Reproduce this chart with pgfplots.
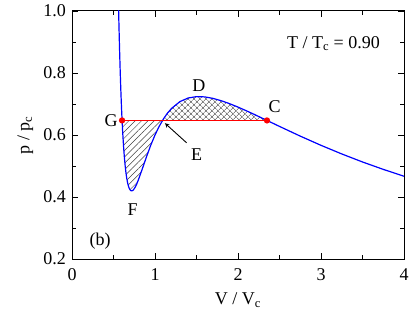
\documentclass[border=0pt]{standalone}
\usepackage{pgfplots}
\pgfplotsset{compat=1.18}
\usetikzlibrary{patterns.meta}
\usepackage{fontspec}
\setmainfont{Liberation Serif}

\begin{document}
\fontsize{18}{21}\selectfont
\begin{tikzpicture}
\begin{axis}[
  scale only axis, width=332pt, height=248pt,
  xmin=0, xmax=4, ymin=0.2, ymax=1.0,
  xtick={0,1,2,3,4}, ytick={0.2,0.4,0.6,0.8,1.0},
  minor xtick={0.5,1.5,2.5,3.5}, minor ytick={0.3,0.5,0.7,0.9},
  tick align=inside, major tick length=6pt, minor tick length=4pt,
  tick style={black, line width=0.9pt},
  axis line style={line width=1pt},
  yticklabel style={/pgf/number format/.cd, fixed, fixed zerofill, precision=1},
  xticklabel style={yshift=-3pt},
  /pgf/number format/assume math mode=true,
  xlabel={V / V\textsubscript{c}}, ylabel={p / p\textsubscript{c}},
  xlabel style={yshift=0pt}, ylabel style={yshift=-2pt},
  every tick label/.append style={font=\fontsize{18}{21}\selectfont},
  label style={font=\fontsize{18}{21}\selectfont},
  every node/.append style={font=\fontsize{18}{21}\selectfont},
]
% hatched areas (Maxwell construction)
\addplot[draw=none, pattern={Lines[angle=45,distance=4.5pt,line width=0.5pt]}, pattern color=black!75]
  coordinates {(0.603,0.647) (0.61,0.6123) (0.62,0.5677) (0.63,0.5313) (0.64,0.5019) (0.65,0.4783)
  (0.66,0.4598) (0.67,0.4457) (0.68,0.4352) (0.69,0.4278) (0.70,0.4231) (0.71,0.4205) (0.72,0.4199)
  (0.73,0.4208) (0.74,0.4231) (0.76,0.4311) (0.78,0.4421) (0.80,0.4554) (0.85,0.4930) (0.90,0.5316)
  (0.95,0.5678) (1.00,0.6) (1.05,0.6277) (1.09,0.647)} --cycle;
\addplot[draw=none, pattern={Lines[angle=45,distance=4pt,line width=0.5pt]}, pattern color=black!75]
  coordinates {(1.09,0.647) (1.1,0.6511) (1.15,0.6704) (1.2,0.6859) (1.3,0.7077) (1.4,0.7194) (1.5,0.7238)
  (1.6,0.7229) (1.7,0.7180) (1.8,0.7104) (1.9,0.7009) (2.0,0.69) (2.1,0.6782) (2.2,0.6659)
  (2.3,0.6532) (2.349,0.647)} --cycle;
\addplot[draw=none, pattern={Lines[angle=-45,distance=4pt,line width=0.5pt]}, pattern color=black!75]
  coordinates {(1.09,0.647) (1.1,0.6511) (1.15,0.6704) (1.2,0.6859) (1.3,0.7077) (1.4,0.7194) (1.5,0.7238)
  (1.6,0.7229) (1.7,0.7180) (1.8,0.7104) (1.9,0.7009) (2.0,0.69) (2.1,0.6782) (2.2,0.6659)
  (2.3,0.6532) (2.349,0.647)} --cycle;
% van der Waals isotherm T/Tc = 0.90
\addplot[blue, line width=1.2pt, no markers] coordinates {
  (0.55,1.160) (0.555,1.0876) (0.56,1.022) (0.565,0.962) (0.57,0.9072) (0.575,0.8573) (0.58,0.8117)
  (0.585,0.7703) (0.59,0.7324) (0.595,0.6980) (0.60,0.6667) (0.61,0.6123) (0.62,0.5677) (0.63,0.5313)
  (0.64,0.5019) (0.65,0.4783) (0.66,0.4598) (0.67,0.4457) (0.68,0.4352) (0.69,0.4278) (0.70,0.4231)
  (0.71,0.4205) (0.72,0.4199) (0.73,0.4208) (0.74,0.4231) (0.76,0.4311) (0.78,0.4421) (0.80,0.4554)
  (0.85,0.4930) (0.90,0.5316) (0.95,0.5678) (1.00,0.6) (1.05,0.6277) (1.1,0.6511) (1.15,0.6704)
  (1.2,0.6859) (1.3,0.7077) (1.4,0.7194) (1.5,0.7238) (1.6,0.7229) (1.7,0.7180) (1.8,0.7104)
  (1.9,0.7009) (2.0,0.69) (2.1,0.6782) (2.2,0.6659) (2.3,0.6532) (2.4,0.6405) (2.5,0.6277)
  (2.75,0.5964) (3.0,0.5667) (3.25,0.5389) (3.5,0.5130) (3.75,0.4891) (4.0,0.4670)};
% coexistence line
\addplot[red, line width=1.2pt, mark=*, mark size=2.5pt, mark options={fill=red}]
  coordinates {(0.603,0.647) (2.349,0.647)};
\node at (axis cs:0.47,0.647) {G};
\node at (axis cs:2.44,0.690) {C};
\node at (axis cs:1.53,0.758) {D};
\node at (axis cs:1.50,0.538) {E};
\node at (axis cs:0.73,0.360) {F};
\node at (axis cs:0.34,0.258) {(b)};
\node at (axis cs:3.15,0.895) {T / T\textsubscript{c} = 0.90};
\draw[-stealth, line width=0.9pt] (axis cs:1.38,0.575) -- (axis cs:1.12,0.638);
\coordinate (ll) at (rel axis cs:0,0);
\coordinate (ur) at (rel axis cs:1,1);
\end{axis}
\pgfresetboundingbox
\path ([shift={(-72pt,-67pt)}]ll) rectangle ([shift={(11pt,11pt)}]ur);
\end{tikzpicture}
\end{document}
